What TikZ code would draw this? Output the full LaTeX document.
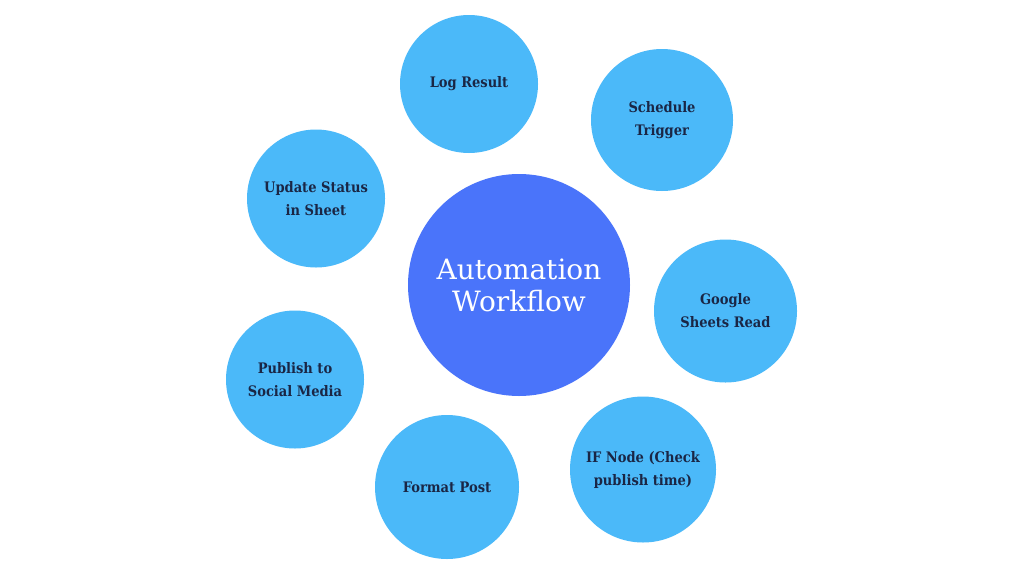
\documentclass[tikz,border=0pt]{standalone}
\usepackage{fontspec}
\setmainfont{DejaVu Serif}
\newfontfamily\labelfont{DejaVu Serif Condensed}
\begin{document}
\begin{tikzpicture}[x=1pt,y=-1pt,
  small/.style={circle,fill=skyblue,text=navytext,align=center,inner sep=0pt,font=\labelfont\bfseries\fontsize{14.5}{23}\selectfont},
  hub/.style={circle,fill=hubblue,text=white,align=center,inner sep=0pt,font=\fontsize{28}{32}\selectfont}]
\definecolor{skyblue}{HTML}{4BB9F9}
\definecolor{hubblue}{HTML}{4A74FA}
\definecolor{navytext}{HTML}{1A2645}
\useasboundingbox[fill=white] (0,0) rectangle (1024,576);
\node[hub,minimum size=222pt] (hub) at (519,285) {Automation\\Workflow};
\node[small,minimum size=138pt] (log) at (469,84) {Log Result};
\node[small,minimum size=142pt] (sched) at (662,120) {Schedule\\Trigger};
\node[small,minimum size=138pt] (upd) at (316,198.5) {Update Status\\in Sheet};
\node[small,minimum size=143pt] (gsr) at (725.5,311) {Google\\Sheets Read};
\node[small,minimum size=138pt] (pub) at (295,379.5) {Publish to\\Social Media};
\node[small,minimum size=146pt] (ifn) at (643,469.5) {IF Node (Check\\publish time)};
\node[small,minimum size=144pt] (fmt) at (447,487) {Format Post};
\end{tikzpicture}
\end{document}
